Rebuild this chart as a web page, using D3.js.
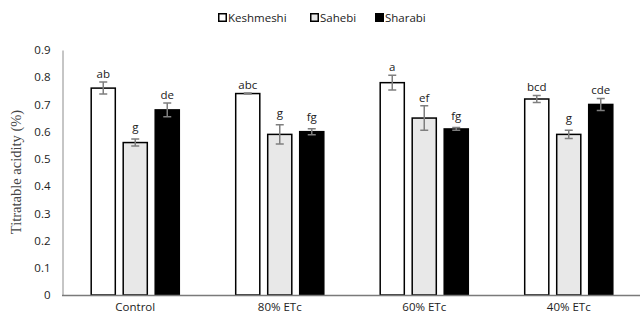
<!DOCTYPE html>
<html><head><meta charset="utf-8">
<script src="https://cdn.jsdelivr.net/npm/d3@7/dist/d3.min.js"></script>
<style>body{margin:0;background:#fff}svg{display:block}</style>
</head><body><svg id="c" width="640" height="320"></svg>
<script>
const categories = ["Control", "80% ETc", "60% ETc", "40% ETc"];
const seriesNames = ["Keshmeshi", "Sahebi", "Sharabi"];
const keshmeshi = [0.76, 0.74, 0.78, 0.72];
const sahebi = [0.56, 0.59, 0.65, 0.59];
const sharabi = [0.68, 0.60, 0.61, 0.70];
const keshmeshiErr = [0.022, 0.002, 0.027, 0.013];
const sahebiErr = [0.013, 0.035, 0.045, 0.015];
const sharabiErr = [0.025, 0.011, 0.005, 0.022];
const keshmeshiLetters = ["ab", "abc", "a", "bcd"];
const sahebiLetters = ["g", "g", "ef", "g"];
const sharabiLetters = ["de", "fg", "fg", "cde"];
const yTicks = [0, 0.1, 0.2, 0.3, 0.4, 0.5, 0.6, 0.7, 0.8, 0.9];

const colors = ["#ffffff", "#e8e8e8", "#000000"];
const vals = [keshmeshi, sahebi, sharabi];
const errs = [keshmeshiErr, sahebiErr, sharabiErr];
const lets = [keshmeshiLetters, sahebiLetters, sharabiLetters];

const svg = d3.select("#c");
const font = "'Open Sans', sans-serif";
const fs = 11.5;
const x0 = d3.scaleBand().domain(categories).range([63, 641]).padding(0);
const x1 = d3.scaleBand().domain(seriesNames).range([-48, 48]).paddingInner(0.2).paddingOuter(0.1);
const y = d3.scaleLinear().domain([0, 0.9]).range([295, 50]);

// y axis
const ya = svg.append("g").attr("transform", "translate(62.5,0)")
  .call(d3.axisLeft(y).tickValues(yTicks).tickSize(0).tickPadding(12).tickFormat(d => d === 0 ? "0" : d3.format(".1f")(d)));
ya.select(".domain").attr("stroke", "#8c8c8c");
ya.selectAll("text").attr("font-family", font).attr("font-size", fs).attr("fill", "#222");

const groups = svg.append("g").selectAll("g").data(categories).join("g")
  .attr("transform", d => `translate(${x0(d) + x0.bandwidth() / 2},0)`);

seriesNames.forEach((s, si) => {
  groups.append("rect")
    .attr("x", x1(s) + 0.75).attr("width", x1.bandwidth() - 1.5)
    .attr("y", (d, i) => y(vals[si][i]))
    .attr("height", (d, i) => y(0) - y(vals[si][i]))
    .attr("fill", colors[si]).attr("stroke", "#000").attr("stroke-width", 1.5);
  const cx = x1(s) + x1.bandwidth() / 2;
  groups.append("path")
    .attr("d", (d, i) => {
      const t = y(vals[si][i] + errs[si][i]), b = y(vals[si][i] - errs[si][i]);
      return `M${cx},${t}V${b}M${cx - 4},${t}H${cx + 4}M${cx - 4},${b}H${cx + 4}`;
    })
    .attr("stroke", "#7f7f7f").attr("stroke-width", 1.5).attr("fill", "none");
  groups.append("text")
    .attr("x", cx)
    .attr("y", (d, i) => y(vals[si][i] + errs[si][i]) - (/g/.test(lets[si][i]) ? 8 : 4))
    .attr("text-anchor", "middle").attr("font-family", font).attr("font-size", fs).attr("fill", "#222")
    .text((d, i) => lets[si][i]);
});

// x axis baseline
const xa = svg.append("g").attr("transform", "translate(0,295.5)")
  .call(d3.axisBottom(x0).tickSize(0).tickPadding(7));
xa.select(".domain").attr("stroke", "#7a7a7a").attr("stroke-width", 1.5).attr("d", "M62,0H640");
xa.selectAll("text").attr("font-family", font).attr("font-size", fs).attr("fill", "#222");

// y title
svg.append("text").attr("transform", "translate(21,172) rotate(-90)")
  .attr("text-anchor", "middle").attr("font-family", "'Liberation Serif', 'Times New Roman', serif")
  .attr("font-size", 14.5).attr("fill", "#444").text("Titratable acidity (%)");

// legend
const legX = [218, 310, 375];
const leg = svg.append("g");
seriesNames.forEach((s, i) => {
  leg.append("rect").attr("x", legX[i] + 0.75).attr("y", 13.75).attr("width", 7.5).attr("height", 7.5)
    .attr("fill", colors[i]).attr("stroke", "#000").attr("stroke-width", 1.5);
  leg.append("text").attr("x", legX[i] + 10).attr("y", 21.5)
    .attr("font-family", font).attr("font-size", fs).attr("fill", "#222").text(s);
});
</script></body></html>
